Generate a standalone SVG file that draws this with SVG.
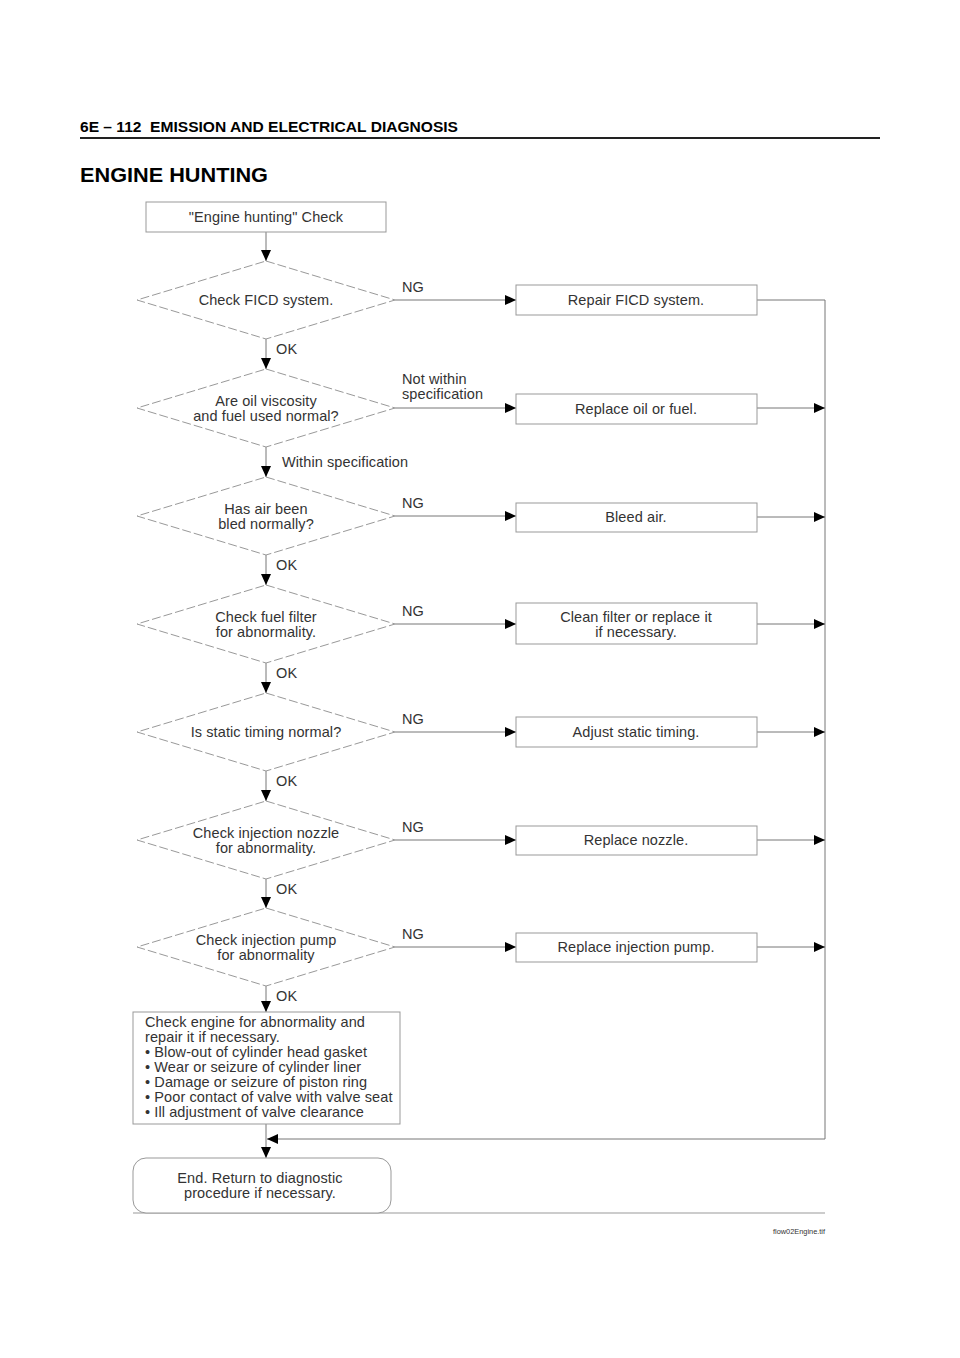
<svg xmlns="http://www.w3.org/2000/svg" width="960" height="1358" viewBox="0 0 960 1358">
<style>
  .t{font-family:"Liberation Sans",Arial,sans-serif;font-size:14.5px;letter-spacing:0.1px;fill:#333;}
  .c{text-anchor:middle;}
  .h{font-family:"Liberation Sans",Arial,sans-serif;font-weight:bold;fill:#000;}
  .box{fill:#fff;stroke:#999;stroke-width:1;}
  .dia{fill:#fff;stroke:#999;stroke-width:1;stroke-dasharray:9 3;}
  .ln{fill:none;stroke:#777;stroke-width:1;}
</style>
<defs>
  <marker id="ah" markerUnits="userSpaceOnUse" markerWidth="11" markerHeight="10" refX="11" refY="5" orient="auto">
    <path d="M0,0 L11,5 L0,10 z" fill="#000"/>
  </marker>
</defs>
<rect width="960" height="1358" fill="#fff"/>

<g id="header">
  <text class="h" x="80" y="132" font-size="14" textLength="378" lengthAdjust="spacingAndGlyphs" xml:space="preserve">6E – 112  EMISSION AND ELECTRICAL DIAGNOSIS</text>
  <line x1="80" y1="138" x2="880" y2="138" stroke="#222" stroke-width="2"/>
  <text class="h" x="80" y="182" font-size="20.5" textLength="188" lengthAdjust="spacingAndGlyphs">ENGINE HUNTING</text>
</g>

<g id="connectors">
  <line class="ln" x1="266" y1="232" x2="266" y2="261" marker-end="url(#ah)"/>
  <line class="ln" x1="266" y1="339" x2="266" y2="369" marker-end="url(#ah)"/>
  <line class="ln" x1="266" y1="447" x2="266" y2="477" marker-end="url(#ah)"/>
  <line class="ln" x1="266" y1="555" x2="266" y2="585" marker-end="url(#ah)"/>
  <line class="ln" x1="266" y1="663" x2="266" y2="693" marker-end="url(#ah)"/>
  <line class="ln" x1="266" y1="771" x2="266" y2="801" marker-end="url(#ah)"/>
  <line class="ln" x1="266" y1="879" x2="266" y2="908" marker-end="url(#ah)"/>
  <line class="ln" x1="266" y1="986" x2="266" y2="1012" marker-end="url(#ah)"/>
  <line class="ln" x1="266" y1="1124" x2="266" y2="1158" marker-end="url(#ah)"/>

  <line class="ln" x1="395" y1="300" x2="516" y2="300" marker-end="url(#ah)"/>
  <line class="ln" x1="395" y1="408" x2="516" y2="408" marker-end="url(#ah)"/>
  <line class="ln" x1="395" y1="516" x2="516" y2="516" marker-end="url(#ah)"/>
  <line class="ln" x1="395" y1="624" x2="516" y2="624" marker-end="url(#ah)"/>
  <line class="ln" x1="395" y1="732" x2="516" y2="732" marker-end="url(#ah)"/>
  <line class="ln" x1="395" y1="840" x2="516" y2="840" marker-end="url(#ah)"/>
  <line class="ln" x1="395" y1="947" x2="516" y2="947" marker-end="url(#ah)"/>

  <polyline class="ln" points="757,300 825,300 825,1139"/>
  <line class="ln" x1="757" y1="408" x2="825" y2="408" marker-end="url(#ah)"/>
  <line class="ln" x1="757" y1="517" x2="825" y2="517" marker-end="url(#ah)"/>
  <line class="ln" x1="757" y1="624" x2="825" y2="624" marker-end="url(#ah)"/>
  <line class="ln" x1="757" y1="732" x2="825" y2="732" marker-end="url(#ah)"/>
  <line class="ln" x1="757" y1="840" x2="825" y2="840" marker-end="url(#ah)"/>
  <line class="ln" x1="757" y1="947" x2="825" y2="947" marker-end="url(#ah)"/>
  <line class="ln" x1="825" y1="1139" x2="267" y2="1139" marker-end="url(#ah)"/>

  <line x1="133" y1="1213" x2="825" y2="1213" stroke="#999" stroke-width="1"/>

  <text class="t" x="402" y="292">NG</text>
  <text class="t" x="276" y="354">OK</text>
  <text class="t" x="402" y="384">Not within</text>
  <text class="t" x="402" y="399">specification</text>
  <text class="t" x="282" y="467">Within specification</text>
  <text class="t" x="402" y="508">NG</text>
  <text class="t" x="276" y="570">OK</text>
  <text class="t" x="402" y="616">NG</text>
  <text class="t" x="276" y="678">OK</text>
  <text class="t" x="402" y="724">NG</text>
  <text class="t" x="276" y="786">OK</text>
  <text class="t" x="402" y="832">NG</text>
  <text class="t" x="276" y="894">OK</text>
  <text class="t" x="402" y="939">NG</text>
  <text class="t" x="276" y="1001">OK</text>
</g>

<g id="start">
  <rect class="box" x="146" y="202" width="240" height="30"/>
  <text class="t c" x="266" y="222">"Engine hunting" Check</text>
</g>

<g id="d1">
  <polygon class="dia" points="266,261 395,300 266,339 137,300"/>
  <text class="t c" x="266" y="305">Check FICD system.</text>
</g>
<g id="d2">
  <polygon class="dia" points="266,369 395,408 266,447 137,408"/>
  <text class="t c" x="266" y="406">Are oil viscosity</text>
  <text class="t c" x="266" y="421">and fuel used normal?</text>
</g>
<g id="d3">
  <polygon class="dia" points="266,477 395,516 266,555 137,516"/>
  <text class="t c" x="266" y="514">Has air been</text>
  <text class="t c" x="266" y="529">bled normally?</text>
</g>
<g id="d4">
  <polygon class="dia" points="266,585 395,624 266,663 137,624"/>
  <text class="t c" x="266" y="622">Check fuel filter</text>
  <text class="t c" x="266" y="637">for abnormality.</text>
</g>
<g id="d5">
  <polygon class="dia" points="266,693 395,732 266,771 137,732"/>
  <text class="t c" x="266" y="737">Is static timing normal?</text>
</g>
<g id="d6">
  <polygon class="dia" points="266,801 395,840 266,879 137,840"/>
  <text class="t c" x="266" y="838">Check injection nozzle</text>
  <text class="t c" x="266" y="853">for abnormality.</text>
</g>
<g id="d7">
  <polygon class="dia" points="266,908 395,947 266,986 137,947"/>
  <text class="t c" x="266" y="945">Check injection pump</text>
  <text class="t c" x="266" y="960">for abnormality</text>
</g>

<g id="b1">
  <rect class="box" x="516" y="285" width="241" height="30"/>
  <text class="t c" x="636" y="305">Repair FICD system.</text>
</g>
<g id="b2">
  <rect class="box" x="516" y="394" width="241" height="30"/>
  <text class="t c" x="636" y="414">Replace oil or fuel.</text>
</g>
<g id="b3">
  <rect class="box" x="516" y="503" width="241" height="29"/>
  <text class="t c" x="636" y="522">Bleed air.</text>
</g>
<g id="b4">
  <rect class="box" x="516" y="603" width="241" height="41"/>
  <text class="t c" x="636" y="622">Clean filter or replace it</text>
  <text class="t c" x="636" y="637">if necessary.</text>
</g>
<g id="b5">
  <rect class="box" x="516" y="717" width="241" height="30"/>
  <text class="t c" x="636" y="737">Adjust static timing.</text>
</g>
<g id="b6">
  <rect class="box" x="516" y="826" width="241" height="29"/>
  <text class="t c" x="636" y="845">Replace nozzle.</text>
</g>
<g id="b7">
  <rect class="box" x="516" y="933" width="241" height="29"/>
  <text class="t c" x="636" y="952">Replace injection pump.</text>
</g>

<g id="check-engine">
  <rect class="box" x="133" y="1012" width="267" height="112"/>
  <text class="t" x="145" y="1027">Check engine for abnormality and</text>
  <text class="t" x="145" y="1042">repair it if necessary.</text>
  <text class="t" x="145" y="1057">• Blow-out of cylinder head gasket</text>
  <text class="t" x="145" y="1072">• Wear or seizure of cylinder liner</text>
  <text class="t" x="145" y="1087">• Damage or seizure of piston ring</text>
  <text class="t" x="145" y="1102">• Poor contact of valve with valve seat</text>
  <text class="t" x="145" y="1117">• Ill adjustment of valve clearance</text>
</g>

<g id="end">
  <rect class="box" x="133" y="1158" width="258" height="55" rx="13" ry="13"/>
  <text class="t c" x="260" y="1183">End. Return to diagnostic</text>
  <text class="t c" x="260" y="1198">procedure if necessary.</text>
</g>

<g id="footer">
  <text x="825" y="1234" text-anchor="end" font-family="Liberation Sans, Arial, sans-serif" font-size="8" fill="#333" textLength="52" lengthAdjust="spacingAndGlyphs">flow02Engine.tif</text>
</g>
</svg>
